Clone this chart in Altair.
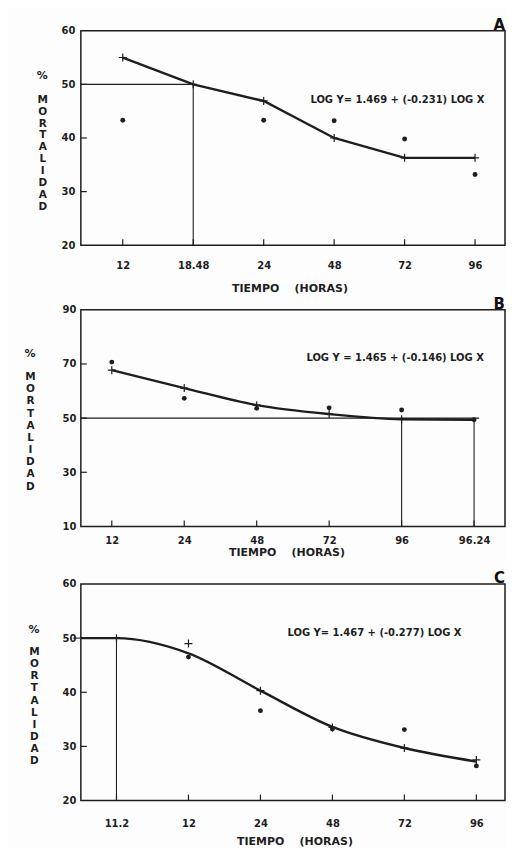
import altair as alt
import pandas as pd

FONT = "DejaVu Sans"
INK = "#1e1e1e"
PLUS = "M-1,0H1M0,-1V1"

# ---------------- data ----------------
# Panel A
a_cats = ["12", "18.48", "24", "48", "72", "96"]
a_fit = [55.0, 50.0, 46.9, 40.0, 36.3, 36.3]
a_obs = [43.3, None, 43.3, 43.2, 39.8, 33.2]
a_eq = "LOG Y= 1.469 + (-0.231) LOG X"
a_yticks = [20, 30, 40, 50, 60]

# Panel B
b_cats = ["12", "24", "48", "72", "96", "96.24"]
b_fit = [67.7, 61.1, 54.8, 51.5, 49.6, 49.4]
b_obs = [70.7, 57.3, 53.6, 53.8, 53.0, 49.4]
b_eq = "LOG Y = 1.465 + (-0.146) LOG X"
b_yticks = [10, 30, 50, 70, 90]

# Panel C
c_cats = ["11.2", "12", "24", "48", "72", "96"]
c_fit = [50.0, 49.0, 40.3, 33.5, 29.7, 27.5]
c_curve = [50.0, 47.2, 40.3, 33.6, 29.7, 27.2]
c_obs = [None, 46.5, 36.6, 33.2, 33.1, 26.4]
c_eq = "LOG Y= 1.467 + (-0.277) LOG X"
c_yticks = [20, 30, 40, 50, 60]

NB = "\u00a0"
YTITLE = list("MORTALIDAD")
PCT = "%"
XTITLE = "TIEMPO" + NB * 4 + "(HORAS)"


def panel(letter, cats, fit, obs, eq, yticks, *, w, h, xdom, curve_x, curve_y,
          interp, cross_idx, hline_to, vline_idx, vline_top, eq_xy, pct_xy,
          ytitle_y, ytitle_lh, xtitle_xy, xlab_pad, ylab_pad, xtitle_lines,
          xtitle_lh=12):
    n = len(cats)
    idx = list(range(n))
    ydom = [yticks[0], yticks[-1]]
    lab_expr = "[" + ",".join("'%s'" % c for c in cats) + "][datum.value]"
    xs = alt.Scale(domain=xdom, nice=False, zero=False)
    ys = alt.Scale(domain=ydom, nice=False, zero=False)
    x_axis = alt.Axis(values=idx, labelExpr=lab_expr, ticks=False, tickSize=0,
                      domain=False, grid=False, labelPadding=xlab_pad,
                      labelFontSize=10, labelFont=FONT, labelFontWeight="bold",
                      labelColor=INK,
                      title=xtitle_lines, titleFont=FONT, titleFontSize=11,
                      titleFontWeight="bold", titleColor=INK,
                      titleX=xtitle_xy[0], titleY=xtitle_xy[1],
                      titleAlign="center", titleBaseline="alphabetic",
                      titleLineHeight=xtitle_lh)
    y_axis = alt.Axis(values=yticks, ticks=False, tickSize=0, domain=False,
                      grid=False, labelPadding=ylab_pad, labelFontSize=10,
                      labelFont=FONT, labelFontWeight="bold", labelColor=INK,
                      title=YTITLE, titleAngle=0, titleFont=FONT,
                      titleFontSize=10.5, titleFontWeight="bold", titleColor=INK,
                      titleX=pct_xy[0], titleY=ytitle_y,
                      titleAlign="center", titleBaseline="alphabetic",
                      titleLineHeight=ytitle_lh)

    def X(f):
        return alt.X(f, type="quantitative", scale=xs, axis=x_axis)

    def Y(f):
        return alt.Y(f, type="quantitative", scale=ys, axis=y_axis)

    hl = pd.DataFrame({"x0": [xdom[0]], "x1": [hline_to], "y": [50]})
    hrule = alt.Chart(hl).mark_rule(color=INK, strokeWidth=1.1).encode(
        x=X("x0"), x2="x1", y=Y("y"))

    vl = pd.DataFrame({"x": vline_idx, "y": vline_top, "y2": [ydom[0]] * len(vline_idx)})
    vrule = alt.Chart(vl).mark_rule(color=INK, strokeWidth=1.1).encode(
        x=X("x"), y=Y("y"), y2="y2")

    cv = pd.DataFrame({"x": curve_x, "y": curve_y})
    line = alt.Chart(cv).mark_line(color=INK, strokeWidth=2.4, interpolate=interp,
                                   clip=True).encode(x=X("x"), y=Y("y"))

    cr = pd.DataFrame({"x": [i for i in cross_idx], "y": [fit[i] for i in cross_idx]})
    crosses = alt.Chart(cr).mark_point(shape=PLUS, size=64, filled=False,
                                       color=INK, strokeWidth=1.2, opacity=1).encode(
        x=X("x"), y=Y("y"))

    ob = pd.DataFrame({"x": [i for i in idx if obs[i] is not None],
                       "y": [v for v in obs if v is not None]})
    dots = alt.Chart(ob).mark_point(shape="circle", size=24, filled=True,
                                    color=INK, opacity=1).encode(x=X("x"), y=Y("y"))

    xt = alt.Chart(pd.DataFrame({"x": idx})).mark_rule(color=INK, strokeWidth=1.2).encode(
        x=X("x"), y=alt.value(h), y2=alt.value(h - 6))
    yt = alt.Chart(pd.DataFrame({"y": yticks[1:-1]})).mark_rule(color=INK, strokeWidth=1.2).encode(
        y=Y("y"), x=alt.value(0), x2=alt.value(6))

    eqt = alt.Chart(pd.DataFrame({"t": [eq]})).mark_text(
        font=FONT, fontSize=10, fontWeight="bold", color=INK, align="left",
        baseline="alphabetic").encode(
        text="t:N", x=alt.value(eq_xy[0]), y=alt.value(eq_xy[1]))
    let = alt.Chart(pd.DataFrame({"t": [letter]})).mark_text(
        font=FONT, fontSize=15, fontWeight="bold", color="#111", align="right",
        baseline="alphabetic").encode(text="t:N", x=alt.value(w), y=alt.value(-1))
    pct = alt.Chart(pd.DataFrame({"t": [PCT]})).mark_text(
        font=FONT, fontSize=11, fontWeight="bold", color=INK, align="center",
        baseline="alphabetic").encode(text="t:N", x=alt.value(pct_xy[0]),
                                      y=alt.value(pct_xy[1]))

    return alt.layer(hrule, vrule, line, crosses, dots, xt, yt, eqt, let, pct).properties(
        width=w, height=h)


pa = panel("A", a_cats, a_fit, a_obs, a_eq, a_yticks, w=425, h=215,
           xdom=[-0.595, 5.425], curve_x=list(range(6)), curve_y=a_fit,
           interp="linear", cross_idx=list(range(6)), hline_to=1,
           vline_idx=[1], vline_top=[50], eq_xy=(230, 72),
           pct_xy=(-38.7, 48.7), ytitle_y=71.8, ytitle_lh=11.9,
           xtitle_xy=(209, 46), xlab_pad=15, ylab_pad=6, xtitle_lines=XTITLE)

pb = panel("B", b_cats, b_fit, b_obs, b_eq, b_yticks, w=425, h=217,
           xdom=[-0.427, 5.427], curve_x=list(range(6)), curve_y=b_fit,
           interp="monotone", cross_idx=[0, 1, 2, 3, 4], hline_to=5.07,
           vline_idx=[4, 5], vline_top=[50, 50], eq_xy=(226, 51.3),
           pct_xy=(-51, 47), ytitle_y=69.8, ytitle_lh=12.2,
           xtitle_xy=(206, 29.5), xlab_pad=9.5, ylab_pad=5,
           xtitle_lines=[XTITLE, NB], xtitle_lh=9.1)

pc = panel("C", c_cats, c_fit, c_obs, c_eq, c_yticks, w=425, h=217,
           xdom=[-0.495, 5.398], curve_x=[-0.6] + list(range(6)),
           curve_y=[50.0] + c_curve, interp="monotone",
           cross_idx=list(range(6)), hline_to=-0.6, vline_idx=[0],
           vline_top=[50], eq_xy=(207, 52), pct_xy=(-47, 49.4),
           ytitle_y=70.5, ytitle_lh=12.2,
           xtitle_xy=(214, 44.5), xlab_pad=18.5, ylab_pad=5, xtitle_lines=XTITLE)

chart = alt.vconcat(pa, pb, pc, spacing=1.7).properties(
    padding={"left": 15, "top": 7.9, "right": 0, "bottom": 0},
    background="#fdfdfd",
).configure_view(stroke=INK, strokeWidth=1.5)

chart.save("out.html", embed_options={"renderer": "svg", "actions": False})
